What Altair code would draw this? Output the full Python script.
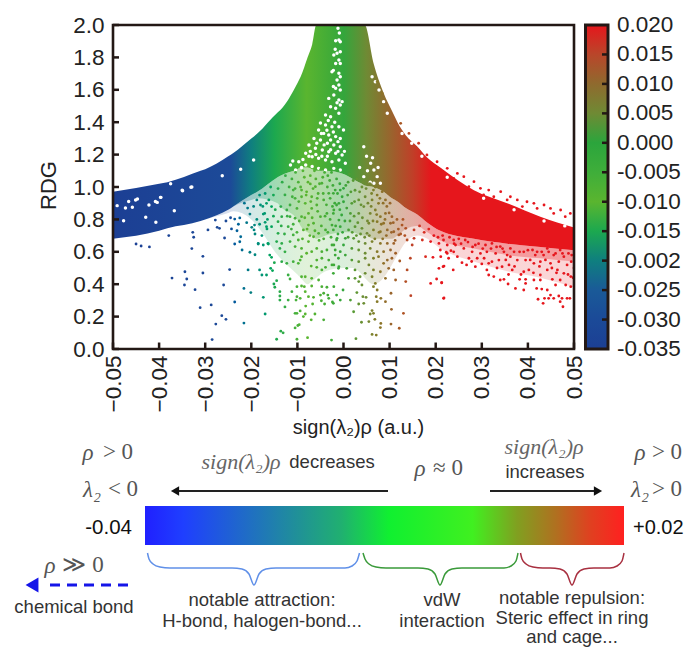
import altair as alt
import pandas as pd

# ---------- RDG scatter: dense envelope ----------
band_x = [-.05,-.04,-.0382,-.031,-.03,-.025,-.0239,-.02,-.0187,-.0143,-.0137,-.01,-.0093,-.0078,-.0068,-.0059,-.0039,0,.002,.004,.0046,.0065,.0087,.0105,.0117,.0135,.016,.0182,.021,.0283,.0355,.0427,.05]
band_up = [.97,1.02,1.03,1.10,1.11,1.19,1.21,1.30,1.33,1.46,1.475,1.64,1.68,1.80,1.88,2,2,2,2,2,2,1.765,1.58,1.47,1.40,1.32,1.25,1.18,1.12,.98,.90,.817,.75]
band_lo = [.68,.73,.745,.79,.80,.86,.88,.95,.97,1.06,1.07,1.11,1.12,1.12,1.11,1.10,1.10,1.08,1.05,1.02,1.01,1.0,.97,.93,.91,.87,.83,.78,.73,.68,.65,.63,.61]
# where the cloud below the band stays thick / where it thins out
cloud_near = [.68,.73,.745,.79,.80,.86,.88,.92,.93,.90,.88,.80,.76,.72,.70,.68,.70,.72,.72,.70,.70,.68,.68,.68,.70,.74,.76,.72,.67,.62,.58,.56,.54]
cloud_far = [.68,.73,.745,.79,.80,.84,.85,.80,.76,.58,.56,.46,.44,.40,.42,.44,.48,.50,.50,.46,.44,.40,.44,.52,.58,.66,.70,.68,.62,.54,.48,.44,.38]

# ---------- colour along sign(lambda2)rho ----------
col_at = [-.05,-.0245,-.02,-.015,-.008,0,.005,.01,.015,.019,.05]
col_hex = ["#1c3f94","#1c4a98","#0f7f7f","#1ca84f","#5ab52f","#33a63c","#6f8a34","#97662e","#c03f28","#e6161c","#e6161c"]

# ---------- sparse points ----------
pts_blue = [(-.045,.648),(-.0439,.636),(-.0421,.63),(-.0379,.70),(-.0372,.438),(-.0344,.477),(-.034,.432),(-.0345,.395),(-.0329,.62),(-.0327,.72),(-.0325,.69),(-.0322,.366),(-.0311,.255),(-.0305,.572),(-.0305,.469),(-.0294,.735),(-.0287,.272),(-.0285,.058),(-.0277,.154),(-.0264,.206),(-.0255,.183),(-.026,.395),(-.0247,.49),(-.0236,.29),(-.0258,.685),(-.0236,.648),(-.0225,.662),(-.022,.611),(-.0216,.374),(-.0216,.16),(-.0207,.488),(-.0201,.348),(-.0203,.597),(-.0192,.582),(-.0174,.319),(-.017,.216),(-.0274,.751),(-.0269,.745),(-.0278,.796),(-.0243,.741),(-.0231,.73),(-.0223,.693),(-.0236,.802),(-.0225,.809),(-.0203,.833),(-.0199,.751),(-.0192,.71),(-.0185,.648),(-.0174,.833),(-.0166,.741),(-.0177,.70),(-.0163,.648),(-.017,.782),
(-.0215,.9),(-.0208,.87),(-.0195,.88),(-.0188,.92),(-.0182,.95),(-.0175,.88),(-.017,.96),(-.0162,.92),(-.0158,1.0),(-.0152,.95),(-.0148,.86),(-.0152,.82),(-.0165,.8),(-.0188,.8),(-.021,.78),(-.0228,.77),(-.0255,.79),(-.0245,.81)]
pts_green = [(-.0145,.06),(-.0101,.06),(-.0078,.07),(-.0026,.055),(-.0136,.11),(-.0131,.10),(-.0105,.13),(-.0099,.145),(-.0096,.15),(-.007,.18),(-.0043,.18),(-.0087,.20),(-.0105,.22),(-.0101,.22),(-.0094,.235),(-.0083,.216),(-.0062,.216),(-.0127,.26),(-.0082,.265),(-.0067,.278),(-.0041,.278),(-.0024,.29),(-.0182,.488),(-.0177,.457),(-.0167,.457),(-.0158,.498),(-.0154,.484),(-.0151,.401),(-.0149,.381),(-.0145,.422),(-.015,.533),(-.0134,.539),(-.0123,.529),(-.012,.457),(-.0116,.432),(-.0138,.354),(-.0138,.327),(-.0138,.302),(-.012,.302),(-.0109,.539),(-.0094,.549),(-.0098,.529),(-.0083,.446),(-.0091,.446),(-.007,.512),(-.0058,.504),(-.0047,.488),(-.0039,.504),(-.0021,.519),(-.001,.508),(-.0069,.436),(-.0054,.426),(-.0047,.385),(-.0021,.385),(-.0036,.381),(-.0101,.385),(-.0091,.389),(-.0083,.354),(-.0101,.323),(-.0103,.302),(-.0094,.313),(-.0076,.323),(-.0065,.319),(-.005,.333),(-.0043,.344),(-.0034,.333),(-.0048,.298),(-.0032,.313),(-.0069,.389),(-.0112,.354),(-.0085,.385),
(-.0193,.765),(-.0182,.77),(-.0167,.755),(-.0156,.755),(-.0194,.735),(-.0185,.652),(-.0174,.642),(-.0164,.652),(-.016,.58),(-.0156,.566),(-.0145,.663),(-.0134,.652),(-.0138,.621),(-.0127,.60),(-.0142,.786),(-.0134,.817),(-.0142,.714),(-.0171,.837),(-.018,.889),(-.0167,.899),(-.0156,.879),(-.0136,.879),(-.0123,.858),(-.0116,.889),(-.0101,.868),(-.0083,.899),(-.0069,.94),(-.0091,.981),(-.0109,.981),(-.0127,.951),(-.0061,1.002),(-.0047,1.023),(-.0072,1.019),(-.0091,.94),(-.0105,.93),(-.0116,.817),(-.0105,.807),(-.0091,.817),(-.0076,.837),(-.0069,.868),(-.0058,.889),(-.0043,.92),(-.0032,.961),(-.0018,.981),(-.012,.755),(-.0109,.704),(-.0098,.673),(-.0087,.735),(-.0076,.765),(-.0065,.776),(-.005,.817),(-.0036,.837),(-.0021,.858),(-.001,.899),(-.0105,.632),(-.0091,.621),(-.0076,.663),(-.0065,.693),(-.0054,.714),(-.0039,.735),(-.0025,.765),(-.001,.796),(-.008,.591),(-.0069,.601),(-.0058,.621),(-.0047,.601),(-.0036,.611),(-.0021,.642),(-.0014,.683),(-.0058,.549),(-.0047,.56),(-.0032,.549),(-.0018,.58),(-.0007,.601),(-.0091,.57),(-.0116,.663),
(-.0112,1.05),(-.0098,1.03),(-.0085,1.06),(-.0072,1.07),(-.006,1.05),(-.0045,1.06),(-.003,1.04),(-.0015,1.05),(-.0105,.99),(-.008,.97),(-.0055,.96),(-.0035,1.0)]
pts_mid = [(.0027,.064),(.0062,.09),(.0071,.086),(.0039,.165),(.0055,.169),(.0068,.183),(.0081,.158),(.008,.132),(.0103,.154),(.0121,.128),(.013,.22),(.0104,.245),(.0062,.237),(.0065,.22),(.0058,.216),(.0022,.23),(.0146,.329),(.0103,.344),(.0091,.292),(.0081,.313),(.0071,.323),(.0073,.292),(.0044,.282),(.0033,.278),(.0015,.302),(-.0007,.302),(-.0022,.282),(-.0001,.364),(-.0015,.333),(.0042,.323),(.0049,.319),(.0029,.348),(.0065,.385),(.0073,.364),(.0069,.405),(.004,.395),(.0033,.416),(.0025,.436),(.0011,.436),(-.0011,.498),(-.0022,.467),(.0007,.498),(.0025,.488),(.0036,.446),(.0047,.467),(.0062,.446),(.0065,.488),(.0055,.519),(.008,.477),(.0091,.436),(.0098,.498),(.0095,.549),(.0109,.488),(.0113,.426),(.0135,.416),(.0138,.488),(.0145,.56),(.0122,.543),(.0105,.56),(.0087,.529),(.0076,.57),(.0065,.56),(.0047,.56),(.0033,.539),(.0018,.549),(.0004,.58),(-.0011,.56),(-.0025,.519),(-.0018,.611),(0,.642),(.0018,.621),(.0033,.611),(.0047,.591),(.0058,.621),(.0073,.601),(.0087,.601),(.0102,.611),(.0113,.591),(.0109,.652),(.0095,.652),(.008,.652),(.0062,.663),(.0047,.652),(.0033,.663),(.0022,.683),(.0004,.683),(-.0015,.673),(-.0025,.642),(-.0022,.735),(-.0007,.755),(.0011,.735),(.0025,.755),(.004,.745),(.0051,.714),(.0065,.735),(.008,.724),(.0095,.735),(.0109,.724),(.0127,.765),(.0149,.642),(.0153,.683),(.0138,.673),(.0135,.745),(.012,.704),(.0153,.735),(.0171,.673),(.0189,.663),(.0207,.652),(.0178,.57),(.0194,.566),(.0211,.57),(.0223,.597),(.0233,.607),(.0207,.498),(.0218,.512),(.0189,.405),(.0202,.432),(.0213,.409),(.0218,.315),
(.0015,.837),(.0033,.837),(.0044,.879),(.0058,.837),(.0069,.858),(.008,.817),(.0091,.837),(.0105,.817),(.0062,.92),(.0076,.899),(.0091,.92),(.0098,.961),(.0084,.971),(.0065,.981),(.0047,.94),(.0033,.92),(.0018,.899),(0,.909),(-.0015,.889),(-.0022,.837),(-.0004,.827),(.0055,.776),(.0073,.786),(.0087,.776),(.0102,.776),(-.0007,.981),(-.0022,.961),(0,.992),(.001,1.03),(.0025,.98),(.004,1.0)]
pts_dense = [(-.0142,.99),(-.0133,1.03),(-.0126,1.07),(-.0118,1.0),(-.0111,.94),(-.0104,1.09),(-.0097,.91),(-.0093,1.0),(-.0088,1.1),(-.0081,.95),(-.0077,1.03),(-.0071,.91),(-.0066,.99),(-.0063,1.1),(-.0057,.93),(-.0052,1.02),(-.0049,1.11),(-.0044,.96),(-.0041,1.09),(-.0037,.89),(-.0034,1.07),(-.0029,.93),(-.0026,1.09),(-.0023,1.01),(-.0019,.9),(-.0013,.96),(-.0012,1.1),(-.0008,1.02),(-.0003,.94),(.0002,1.09),(.0005,1.01),(.0009,.95),(.0013,1.08),(.0016,.97),(.0021,1.04),(.0024,.91),(.0029,1.05),(.0035,.97),(.0038,.89),(.0043,1.03),(.0049,.99),(.0053,.9),(.0057,1.02),(.0061,.96),(.0069,1.0),(.0073,.95),(.0079,.93),(.0086,.9),(.0094,.88),(.0101,.9),
(-.0135,.76),(-.0128,.71),(-.0122,.82),(-.0113,.74),(-.0109,.77),(-.0101,.72),(-.0096,.79),(-.0089,.68),(-.0084,.81),(-.0079,.74),(-.0073,.7),(-.0068,.81),(-.0062,.73),(-.0056,.85),(-.0053,.67),(-.0048,.76),(-.0043,.68),(-.004,.82),(-.0034,.72),(-.0029,.8),(-.0027,.69),(-.0024,.88),(-.0017,.76),(-.0012,.71),(-.0008,.86),(-.0002,.72),(.0003,.79),(.0007,.87),(.001,.69),(.0014,.79),(.0019,.72),(.0023,.82),(.0028,.7),(.0031,.78),(.0037,.71),(.0041,.81),(.0046,.69),(.0052,.79),(.0056,.7),(.006,.88),(.0064,.79),(.0068,.68),(.0072,.83),(.0077,.72),(.0082,.77),(.0085,.68),(.009,.8),(.0093,.7),(.0099,.84),(.0104,.72),(.0108,.78),(.0112,.67),(.0116,.8),(.0119,.74),(.0124,.71),(.0129,.8),(.0133,.7)]
pts_red = [(.0217,.313),(.0213,.409),(.0238,.488),(.0216,.508),(.0247,.57),(.0225,.59),(.0239,.60),(.0257,.533),(.0267,.519),(.0272,.56),(.0286,.508),(.029,.56),(.03,.525),(.0315,.529),(.0311,.488),(.0315,.457),(.0326,.447),(.034,.426),(.0348,.43),(.0357,.401),(.0373,.374),(.0391,.364),(.0382,.43),(.0395,.43),(.0395,.405),(.0413,.426),(.0427,.426),(.0419,.374),(.043,.37),(.0442,.364),(.0449,.333),(.0422,.307),(.0433,.282),(.0436,.313),(.0445,.313),(.0456,.313),(.0467,.327),(.0474,.313),(.047,.292),(.0485,.313),(.0491,.313),(.0476,.261),(.0453,.43),(.046,.395),(.047,.426),(.0482,.395),(.0493,.385),(.0493,.447),(.0478,.467),(.0464,.488),(.0442,.488),(.0427,.457),(.0402,.488),(.0391,.477),(.0366,.488),(.0359,.519),(.0344,.508),(.0337,.549),(.0322,.539),(.0362,.57),(.0377,.549),(.0395,.549),(.0413,.529),(.0427,.539),(.0449,.529),(.0467,.539),(.0485,.519),(.0494,.539),(.0478,.57),(.0456,.58),(.0434,.58),(.0416,.58),(.0297,.59),(.0279,.60),(.0261,.621),(.0243,.642),(.0225,.642),(.021,.611),(.0311,.60),(.033,.59),(.0348,.60),(.0391,.60),(.0308,.642),(.0286,.642),(.0264,.673),(.0239,.673),(.0217,.673),(.0322,.652),(.034,.632),(.0362,.621),(.041,.611),(.0442,.621),(.047,.611),(.0488,.59),
(.0492,.837),(.0471,.858),(.0449,.868),(.0435,.889),(.0413,.899),(.0398,.909),(.0377,.92),(.0362,.94),(.0341,.971),(.0315,.981),(.0297,.992),(.0283,1.033),(.0261,1.064),(.0247,1.084),(.0225,1.115),(.0203,1.156),(.0181,1.198),(.0163,1.27),(.0142,1.331),(.0124,1.393),(.0102,1.455),(.0084,1.578),(.0073,1.65),(.0481,.817),(.0456,.837),(.042,.868),(.0388,.879),(.0355,.92),(.0326,.94),(.0304,.951),(.0272,1.002),(.0239,1.053),(.021,1.105),(.0189,1.146),
(.0165,.76),(.0175,.72),(.0185,.74),(.0196,.7),(.0205,.69),(.0215,.7),(.023,.69),(.024,.65),(.025,.68),(.0255,.65),(.027,.66),(.028,.63),(.0293,.65),(.0302,.62),(.032,.62),(.0332,.63),(.0345,.62),(.0355,.58),(.037,.6),(.0382,.6),(.04,.61),(.042,.6),(.043,.6),(.0445,.6),(.046,.59),(.0475,.59),(.0495,.58),(.0405,.55),(.0425,.51),(.0438,.55),(.0452,.5),(.0462,.47),(.0487,.46),(.05,.5),(.0498,.44),(.0371,.51),(.0352,.55),(.0333,.5),(.0305,.56),(.0278,.54),(.0228,.56),(.0385,.46),(.0358,.46),(.0412,.47)]
# gaps where the dense cloud shows the white page through
gaps = [(-.0012,1.98),(-.001,1.907),(-.0017,1.903),(-.0007,1.897),(-.0014,1.825),(-.0021,1.815),(-.0007,1.835),(-.001,1.784),(-.0017,1.763),(-.0007,1.763),(-.001,1.702),(-.0025,1.712),(-.0007,1.681),(-.0014,1.66),(-.001,1.63),(-.0017,1.609),(-.0007,1.599),(-.0021,1.568),(-.001,1.537),(-.0003,1.527),(-.0007,1.506),(-.0032,1.547),(-.0028,1.496),(-.0017,1.486),(-.0039,1.444),(-.0028,1.434),(-.001,1.455),(-.005,1.395),(-.0039,1.383),(-.0025,1.372),(-.001,1.372),(0,1.352),(-.0054,1.352),(-.0043,1.331),(-.0032,1.321),(-.0017,1.311),(-.0007,1.3),(-.0064,1.3),(-.005,1.29),(-.0035,1.27),(-.0021,1.259),(-.0007,1.249),(-.0075,1.259),(-.0061,1.239),(-.0046,1.228),(-.0032,1.218),(-.0017,1.208),(-.0003,1.198),(-.0082,1.208),(-.0068,1.187),(-.0054,1.177),(-.0039,1.167),(-.0025,1.156),(-.001,1.167),(.0004,1.146),(-.0097,1.156),(-.0082,1.136),(-.0068,1.126),(-.0054,1.115),(-.0039,1.105),(-.0021,1.115),(-.0007,1.105),(-.0115,1.136),(-.0104,1.105),(-.0466,.91),(-.0451,.92),(-.0473,.87),(-.0422,.889),(-.0397,.936),(-.0408,.91),(-.035,.98),(-.0329,1.0),(-.0375,1.02),(-.0263,1.07),(-.0223,1.11),(-.0195,1.167),(-.0447,.926),(-.0458,.875),(-.0404,.905),(-.0396,.936),(-.0349,.977),(-.0331,.998),(-.0407,.782),(-.0367,.854),(-.0429,.813),(-.0491,.885),(-.0477,.792),(.0127,1.33),(.0148,1.27),(.017,1.19),(.0225,1.06),(.0304,.93),(.037,.86),(.0435,.79),(.048,.76),(.0062,1.681),(.0069,1.65),(.0077,1.599),(.0087,1.527),(.0095,1.455),(.0044,1.249),(.0059,1.146),(.0066,1.105),(.0073,1.064),(.008,1.023),(.0066,1.023),(.0044,1.064),
(-.0088,1.17),(-.0075,1.19),(-.006,1.2),(-.0047,1.19),(-.0035,1.19),(-.0028,1.23),(-.0012,1.22),(.0002,1.22),(-.0058,1.27),(-.0042,1.26),(-.0028,1.29),(-.0012,1.28),(-.0072,1.22),(-.0091,1.12),(-.011,1.16),(-.0048,1.33),(-.0036,1.35),(-.0022,1.34),(-.0033,1.41),(-.0019,1.4),(-.0014,1.52),(-.0022,1.62),(-.0022,1.72),(-.0018,1.85),(-.0009,1.95),(.0035,1.12),(.005,1.19),(.0052,1.1),(.0063,1.18),(.0075,1.12),(.0058,1.03)]

# ---------- axes ----------
x_ticks = [-.05,-.04,-.03,-.02,-.01,0,.01,.02,.03,.04,.05]
y_ticks = [0,.2,.4,.6,.8,1.0,1.2,1.4,1.6,1.8,2.0]

# ---------- colour bar ----------
cb_values = [.020,.015,.010,.005,0,-.005,-.010,-.015,-.020,-.025,-.030,-.035]
cb_labels = ["0.020","0.015","0.010","0.005","0.000","-0.005","-0.010","-0.015","-0.002","-0.025","-0.030","-0.035"]
cb_colors = ["#e6161c","#b9462a","#8f6a2e","#6f8a34","#2ba53c","#3fae3a","#5ab52f","#1ca84f","#0f7f7f","#1a5a98","#1b4a98","#1c3f94"]

# ---------- schematic (page units) ----------
bar_stops = [(0,"#2020ff"),(.08,"#1f3fff"),(.41,"#20b070"),(.51,"#10f030"),(.684,"#40f020"),(.776,"#80a020"),(.858,"#b07020"),(.93,"#e04020"),(1,"#ff2020")]
brace_blue = [(147.5,553),(149,559),(153,564),(160,567),(170,568),(232,568),(242,569),(249,574),(254,585),(259,574),(266,569),(276,568),(345,568),(352,566),(357,561),(359.5,553)]
brace_green = [(363,553),(365,559),(369,564),(376,567),(386,568),(418,568),(428,569),(435,574),(440,585),(445,574),(452,569),(462,568),(504,568),(511,566),(516,561),(518,553)]
brace_red = [(520.5,553),(522,559),(526,564),(533,567),(543,568),(550,568),(560,569),(567,574),(572,585),(577,574),(584,569),(594,568),(610,568),(617,566),(622,561),(624,553)]

FRAME = "#231815"
SANS = "Liberation Sans"
SERIF = "Liberation Serif"

sx = alt.Scale(domain=[-.05, .05], nice=False, zero=False)
sy = alt.Scale(domain=[0, 2], nice=False, zero=False)
cscale = alt.Scale(domain=col_at, range=col_hex)
px = alt.Scale(domain=[113, 574], nice=False, zero=False)
py = alt.Scale(domain=[349, 25], nice=False, zero=False)
cby = alt.Scale(domain=[-.035, .020], nice=False, zero=False)

X = alt.X("x:Q", scale=sx, axis=None)
Y = alt.Y("y:Q", scale=sy, axis=None)
PX = alt.X("x:Q", scale=px, axis=None)
PY = alt.Y("y:Q", scale=py, axis=None)


def grad(stops, vertical=False):
    g = {"gradient": "linear", "x1": 0, "x2": 1, "y1": 0, "y2": 0,
         "stops": [{"offset": o, "color": c} for o, c in stops]}
    if vertical:
        g.update({"x2": 0, "y1": 1, "y2": 0})
    return g


band_grad = grad([((a + .05) / .1, c) for a, c in zip(col_at, col_hex)])


def cloud(lower, opacity):
    df = pd.DataFrame({"x": band_x, "y": band_lo, "y0": lower})
    return alt.Chart(df).mark_area(interpolate="monotone", clip=True, color=band_grad, opacity=opacity).encode(
        x=X, y=Y, y2="y0:Q")


band_df = pd.DataFrame({"x": band_x, "y": band_up, "y0": band_lo})
band = alt.Chart(band_df).mark_area(
    interpolate="monotone", clip=True, color=band_grad,
).encode(
    x=alt.X("x:Q", scale=sx, axis=alt.Axis(
        values=x_ticks, format=".2f", labelAngle=270, ticks=False, domain=False, grid=False,
        labelFont=SANS, labelFontSize=22.5, labelColor="#222", labelPadding=6, labelOverlap=False,
        title="sign(λ₂)ρ (a.u.)", titleFont=SANS, titleFontSize=20, titleFontWeight="normal",
        titleColor="#222", titleX=245, titleY=68)),
    y=alt.Y("y:Q", scale=sy, axis=alt.Axis(
        values=y_ticks, format=".1f", ticks=False, domain=False, grid=False,
        labelFont=SANS, labelFontSize=22.5, labelColor="#222", labelPadding=9, labelOverlap=False,
        title="RDG", titleFont=SANS, titleFontSize=22, titleFontWeight="normal",
        titleColor="#222", titleX=-53, titleY=160)),
    y2="y0:Q",
)


def frame_of(pairs):
    return pd.DataFrame(pairs, columns=["x", "y"])


gap_layer = alt.Chart(frame_of(gaps)).mark_circle(size=12, opacity=1, color="white", clip=True).encode(x=X, y=Y)
points = alt.Chart(frame_of(pts_blue + pts_green + pts_mid + pts_dense + pts_red)).mark_circle(size=8, opacity=1, clip=True).encode(
    x=X, y=Y, color=alt.Color("x:Q", scale=cscale, legend=None))

xt = alt.Chart(pd.DataFrame({"x": x_ticks, "a": [0.0] * 11, "b": [.04] * 11})).mark_rule(size=2.5, color=FRAME).encode(
    x=X, y=alt.Y("a:Q", scale=sy, axis=None), y2="b:Q")
yt = alt.Chart(pd.DataFrame({"y": y_ticks, "a": [-.05] * 11, "b": [-.0487] * 11})).mark_rule(size=2.5, color=FRAME).encode(
    y=Y, x=alt.X("a:Q", scale=sx, axis=None), x2="b:Q")
frame = alt.Chart(pd.DataFrame({"a": [-.05], "b": [.05], "c": [0], "d": [2]})).mark_rect(
    fillOpacity=0, stroke=FRAME, strokeWidth=2.6).encode(
    x=alt.X("a:Q", scale=sx, axis=None), x2="b:Q", y=alt.Y("c:Q", scale=sy, axis=None), y2="d:Q")

# colour bar
cb_stops = sorted(((v + .035) / .055, c) for v, c in zip(cb_values, cb_colors))
cbar = alt.Chart(pd.DataFrame({"a": [585.5], "b": [608], "c": [-.035], "d": [.020]})).mark_rect(
    color=grad([(o, c) for o, c in cb_stops], vertical=True), stroke=FRAME, strokeWidth=3).encode(
    x=alt.X("a:Q", scale=px, axis=None), x2="b:Q", y=alt.Y("c:Q", scale=cby, axis=None), y2="d:Q")
cb_t = cb_values[1:-1]
cbticks = alt.Chart(pd.DataFrame({"v": cb_t, "a": [602] * len(cb_t), "b": [608] * len(cb_t)})).mark_rule(size=2.5, color=FRAME).encode(
    y=alt.Y("v:Q", scale=cby, axis=None), x=alt.X("a:Q", scale=px, axis=None), x2="b:Q")
cbtext = alt.Chart(pd.DataFrame({"v": cb_values, "t": cb_labels, "a": [617] * 12})).mark_text(
    font=SANS, fontSize=22.5, color="#222", align="left", baseline="middle").encode(
    y=alt.Y("v:Q", scale=cby, axis=None), x=alt.X("a:Q", scale=px, axis=None), text="t:N")


def txt(rows, **kw):
    df = pd.DataFrame(rows, columns=["t", "x", "y"])
    opts = dict(baseline="middle", align="center")
    opts.update(kw)
    return alt.Chart(df).mark_text(**opts).encode(x=PX, y=PY, text="t:N")


serif_plain = txt([("> 0", 118, 452), ("< 0", 123, 489), ("≈ 0", 448, 468), ("≫ 0", 83, 565),
                   ("> 0", 667, 452), ("> 0", 667, 489)], font=SERIF, fontSize=23, color="#555")
serif_ital = txt([("ρ", 88, 453), ("λ₂", 92, 490), ("ρ", 420, 469), ("ρ", 50, 566), ("ρ", 640, 453), ("λ₂", 640, 490)],
                 font=SERIF, fontStyle="italic", fontSize=23, color="#555")
sign_txt = txt([("sign(λ₂)ρ", 241, 462), ("sign(λ₂)ρ", 544, 447)], font=SERIF, fontStyle="italic", fontSize=22, color="#666")
sans_txt = txt([("decreases", 332, 462), ("increases", 545, 472), ("chemical bond", 74, 607),
                ("notable attraction:", 262, 600), ("H-bond, halogen-bond...", 262, 621),
                ("vdW", 442, 600), ("interaction", 442, 621),
                ("notable repulsion:", 572, 598), ("Steric effect in ring", 572, 618), ("and cage...", 572, 637)],
               font=SANS, fontSize=18.5, color="#333")
end_l = txt([("-0.04", 132, 528)], font=SANS, fontSize=20.5, color="#111", align="right")
end_r = txt([("+0.02", 633, 528)], font=SANS, fontSize=20, color="#111", align="left")

sbar = alt.Chart(pd.DataFrame({"a": [145], "b": [624], "c": [506], "d": [545]})).mark_rect(color=grad(bar_stops)).encode(
    x=alt.X("a:Q", scale=px, axis=None), x2="b:Q", y=alt.Y("c:Q", scale=py, axis=None), y2="d:Q")

arrows = alt.Chart(pd.DataFrame({"a": [178, 490], "b": [388, 596], "y": [491, 491]})).mark_rule(size=2, color="#222").encode(
    x=alt.X("a:Q", scale=px, axis=None), x2="b:Q", y=PY)
head_l = alt.Chart(pd.DataFrame({"x": [175], "y": [491]})).mark_point(shape="triangle-left", filled=True, size=90, color="#111", opacity=1).encode(x=PX, y=PY)
head_r = alt.Chart(pd.DataFrame({"x": [598], "y": [491]})).mark_point(shape="triangle-right", filled=True, size=90, color="#111", opacity=1).encode(x=PX, y=PY)
dash = alt.Chart(pd.DataFrame({"a": [50], "b": [130], "y": [585]})).mark_rule(size=3, color="#1515e8", strokeDash=[10, 7]).encode(
    x=alt.X("a:Q", scale=px, axis=None), x2="b:Q", y=PY)
head_d = alt.Chart(pd.DataFrame({"x": [32], "y": [585]})).mark_point(shape="triangle-left", filled=True, size=220, color="#1515e8", opacity=1).encode(x=PX, y=PY)


def brace(pts, color):
    return alt.Chart(frame_of(pts)).mark_line(interpolate="monotone", color=color, strokeWidth=1.5).encode(x=PX, y=PY)


layers = [cloud(cloud_far, .18), cloud(cloud_near, .3), band, gap_layer, points, xt, yt, frame, cbar, cbticks, cbtext, sbar, arrows, head_l, head_r, dash, head_d,
          brace(brace_blue, "#6090e8"), brace(brace_green, "#3a9a3a"), brace(brace_red, "#a83040"),
          serif_plain, serif_ital, sign_txt, sans_txt, end_l, end_r]

chart = alt.layer(*layers).resolve_scale(x="independent", y="independent", color="independent").properties(
    width=461, height=324,
    padding={"left": 105, "top": 17, "right": 110, "bottom": 298},
    autosize=alt.AutoSizeParams(type="none"),
).configure_view(strokeWidth=0)

chart.save("out.html", embed_options={"renderer": "svg", "actions": False})
